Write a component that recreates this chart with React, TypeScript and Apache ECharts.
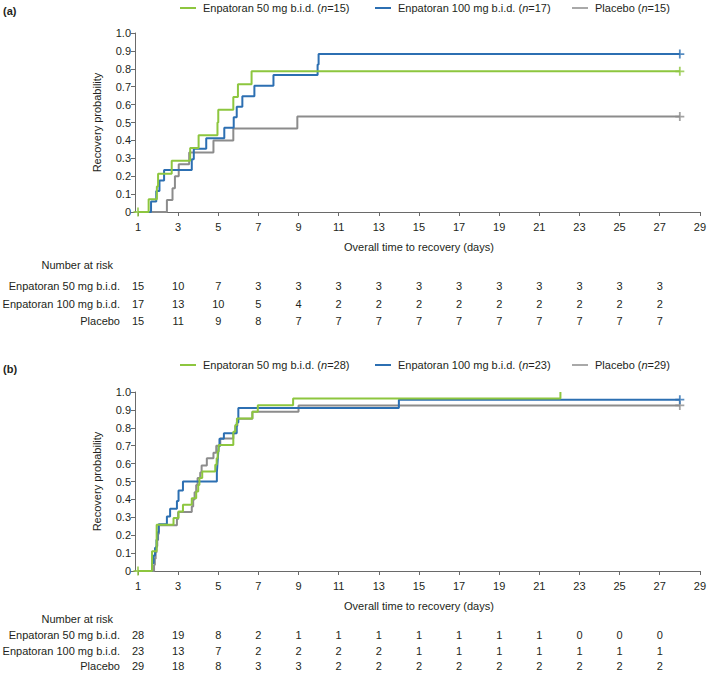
import React, { useEffect, useRef } from "react";
import * as echarts from "echarts";

// ---------- data ----------
const xTicksMin = 1;
const xTicksMax = 29;
const riskDays = [1, 3, 5, 7, 9, 11, 13, 15, 17, 19, 21, 23, 25, 27];
const groupNames = ["Enpatoran 50 mg b.i.d.", "Enpatoran 100 mg b.i.d.", "Placebo"];
const nA = [15, 17, 15];
const nB = [28, 23, 29];

// Panel (a) curves
const tA50 = [1, 1.53, 1.94, 2.0, 2.68, 3.6, 4.02, 4.96, 5.0, 5.75, 5.98, 6.66, 28];
const vA50 = [0, 0.071, 0.143, 0.214, 0.286, 0.357, 0.429, 0.5, 0.571, 0.643, 0.714, 0.786, 0.786];
const cA50 = [1, 28];
const tA100 = [1, 1.65, 1.91, 2.07, 2.3, 3.68, 3.78, 4.4, 5.3, 5.77, 5.92, 6.2, 6.8, 7.75, 9.95, 10.0, 28];
const vA100 = [0, 0.059, 0.118, 0.176, 0.235, 0.294, 0.353, 0.412, 0.471, 0.529, 0.588, 0.647, 0.706, 0.765, 0.824, 0.882, 0.882];
const cA100 = [28];
const tAP = [1, 2.44, 2.72, 2.84, 3.03, 3.55, 4.76, 5.75, 8.94, 28];
const vAP = [0, 0.067, 0.133, 0.2, 0.267, 0.333, 0.4, 0.467, 0.533, 0.533];
const cAP = [28];

// Panel (b) curves
const tB50 = [1, 1.7, 1.93, 2.77, 3.02, 3.24, 3.68, 3.9, 4.0, 4.06, 4.2, 4.85, 4.92, 4.97, 5.02, 5.75, 5.85, 5.93, 6.7, 6.97, 8.73, 22.05];
const vB50 = [0, 0.111, 0.259, 0.296, 0.333, 0.37, 0.407, 0.444, 0.481, 0.519, 0.556, 0.593, 0.63, 0.667, 0.704, 0.778, 0.815, 0.852, 0.889, 0.926, 0.963, 1.0];
const cB50 = [1];
const tB100 = [1, 1.7, 1.78, 1.85, 1.92, 1.97, 2.03, 2.44, 2.6, 2.94, 3.02, 3.24, 4.93, 4.96, 4.99, 5.02, 5.06, 5.28, 5.92, 6.0, 14.0, 28];
const vB100 = [0, 0.043, 0.087, 0.13, 0.174, 0.217, 0.261, 0.304, 0.348, 0.391, 0.45, 0.5, 0.55, 0.6, 0.65, 0.696, 0.739, 0.77, 0.83, 0.91, 0.957, 0.957];
const cB100 = [28];
const tBP = [1, 1.8, 1.84, 1.88, 1.92, 1.96, 2.0, 2.04, 2.94, 3.0, 3.68, 3.75, 3.82, 3.9, 3.97, 4.1, 4.17, 4.43, 4.76, 4.9, 5.1, 5.75, 5.85, 5.95, 6.7, 9.0, 28];
const vBP = [0, 0.034, 0.069, 0.103, 0.138, 0.172, 0.207, 0.255, 0.29, 0.33, 0.36, 0.4, 0.44, 0.48, 0.52, 0.55, 0.59, 0.63, 0.66, 0.7, 0.74, 0.77, 0.81, 0.85, 0.89, 0.925, 0.925];
const cBP = [28];

// Number at risk
const riskA50 = [15, 10, 7, 3, 3, 3, 3, 3, 3, 3, 3, 3, 3, 3];
const riskA100 = [17, 13, 10, 5, 4, 2, 2, 2, 2, 2, 2, 2, 2, 2];
const riskAP = [15, 11, 9, 8, 7, 7, 7, 7, 7, 7, 7, 7, 7, 7];
const riskB50 = [28, 19, 8, 2, 1, 1, 1, 1, 1, 1, 1, 0, 0, 0];
const riskB100 = [23, 13, 7, 2, 2, 2, 2, 1, 1, 1, 1, 1, 1, 1];
const riskBP = [29, 18, 8, 3, 3, 2, 2, 2, 2, 2, 2, 2, 2, 2];

// ---------- styles ----------
const FONT = '"Liberation Sans", Arial, Helvetica, sans-serif';
const GREEN = "#8dc63f";
const BLUE = "#2c6fb2";
const GRAY = "#8c8c8c";
const COLORS = [GREEN, BLUE, GRAY];
const TEXT = "#231f20";
const AXIS = "#6a6a6a";
const PLUS = "path://M4,0H6V4H10V6H6V10H4V6H0V4H4Z";

function pairs(t: number[], v: number[]) {
  return t.map((x, i) => [x, v[i]]);
}
function valueAt(t: number[], v: number[], x: number) {
  let y = v[0];
  for (let i = 0; i < t.length; i++) if (t[i] <= x) y = v[i];
  return y;
}

function makeAxes(gridIndex: number) {
  const xAxis = {
    gridIndex,
    type: "value",
    min: xTicksMin,
    max: xTicksMax,
    interval: 2,
    offset: 4,
    axisLine: { show: true, lineStyle: { color: AXIS, width: 1 } },
    axisTick: { show: true, length: 4, lineStyle: { color: AXIS } },
    axisLabel: { fontSize: 11, color: TEXT, margin: 5, fontFamily: FONT },
    splitLine: { show: false },
    name: "Overall time to recovery (days)",
    nameLocation: "middle",
    nameGap: 25,
    nameTextStyle: { fontSize: 11, color: TEXT, fontFamily: FONT },
  };
  const yAxis = {
    gridIndex,
    type: "value",
    min: 0,
    max: 1,
    interval: 0.1,
    offset: 3,
    axisLine: { show: true, lineStyle: { color: AXIS, width: 1 } },
    axisTick: { show: true, length: 4, lineStyle: { color: AXIS } },
    axisLabel: {
      fontSize: 11,
      color: TEXT,
      margin: 4,
      fontFamily: FONT,
      formatter: (v: number) => (v === 0 ? "0" : v.toFixed(1)),
    },
    splitLine: { show: false },
    name: "Recovery probability",
    nameLocation: "middle",
    nameGap: 33,
    nameRotate: 90,
    nameTextStyle: { fontSize: 11, color: TEXT, fontFamily: FONT },
  };
  return { xAxis, yAxis };
}

function curveSeries(idx: number, t: number[], v: number[], cens: number[], color: string) {
  return [
    {
      type: "line",
      xAxisIndex: idx,
      yAxisIndex: idx,
      step: "end",
      data: pairs(t, v),
      showSymbol: false,
      symbol: "none",
      silent: true,
      lineStyle: { color, width: 2 },
      itemStyle: { color },
      clip: false,
    },
    {
      type: "scatter",
      xAxisIndex: idx,
      yAxisIndex: idx,
      data: cens.map((c) => [c, valueAt(t, v, c)]),
      symbol: PLUS,
      symbolSize: 9,
      silent: true,
      itemStyle: { color },
      clip: false,
    },
  ];
}

export default function App() {
  const ref = useRef<HTMLDivElement>(null);

  useEffect(() => {
    document.body.style.margin = "0";
    if (!ref.current) return;
    const chart = echarts.init(ref.current, undefined, { renderer: "svg" });

    const a = makeAxes(0);
    const b = makeAxes(1);

    chart.setOption({
      animation: false,
      backgroundColor: "#ffffff",
      grid: [
        { left: 138, top: 33, width: 564, height: 179 },
        { left: 138, top: 392, width: 564, height: 179 },
      ],
      xAxis: [a.xAxis, b.xAxis],
      yAxis: [a.yAxis, b.yAxis],
      series: [
        ...curveSeries(0, tAP, vAP, cAP, GRAY),
        ...curveSeries(0, tA100, vA100, cA100, BLUE),
        ...curveSeries(0, tA50, vA50, cA50, GREEN),
        ...curveSeries(1, tBP, vBP, cBP, GRAY),
        ...curveSeries(1, tB100, vB100, cB100, BLUE),
        ...curveSeries(1, tB50, vB50, cB50, GREEN),
      ],
    });

    const graphics: any[] = [];
    const txt = (x: number, y: number, text: string, align: string, extra: any = {}) => ({
      type: "text",
      x,
      y,
      silent: true,
      style: {
        text,
        fill: TEXT,
        fontSize: 11,
        fontFamily: FONT,
        align,
        textAlign: align,
        verticalAlign: "middle",
        textVerticalAlign: "middle",
        ...extra,
      },
    });

    const panel = (
      gridIdx: number,
      label: string,
      labelY: number,
      legendY: number,
      ns: number[],
      risks: number[][],
      narY: number,
      rowYs: number[]
    ) => {
      graphics.push(txt(3, labelY, label, "left", { fontWeight: "bold" }));
      const lineX = [180, 375, 572];
      groupNames.forEach((nm, i) => {
        graphics.push({
          type: "line",
          silent: true,
          shape: { x1: lineX[i], y1: legendY, x2: lineX[i] + 16, y2: legendY },
          style: { stroke: COLORS[i], lineWidth: i === 2 ? 1.5 : 2 },
        });
        graphics.push({
          type: "text",
          x: lineX[i] + 23,
          y: legendY,
          silent: true,
          style: {
            text: nm + " ({i|n}=" + ns[i] + ")",
            fill: TEXT,
            fontSize: 11,
            fontFamily: FONT,
            align: "left",
            textAlign: "left",
            verticalAlign: "middle",
            textVerticalAlign: "middle",
            rich: {
              i: { fontStyle: "italic", fontSize: 11, fontFamily: FONT, fill: TEXT },
            },
          },
        });
      });
      graphics.push(txt(113, narY, "Number at risk", "right"));
      risks.forEach((row, r) => {
        graphics.push(txt(120, rowYs[r], groupNames[r], "right"));
        row.forEach((val, k) => {
          const px = chart.convertToPixel({ xAxisIndex: gridIdx }, riskDays[k]) as number;
          graphics.push(txt(px, rowYs[r], String(val), "center"));
        });
      });
    };

    panel(0, "(a)", 11, 8, nA, [riskA50, riskA100, riskAP], 265, [286, 304, 321]);
    panel(1, "(b)", 369, 365, nB, [riskB50, riskB100, riskBP], 619, [635, 651, 666]);

    chart.setOption({ graphic: graphics });

    return () => chart.dispose();
  }, []);

  return <div ref={ref} style={{ width: 709, height: 674 }} />;
}
